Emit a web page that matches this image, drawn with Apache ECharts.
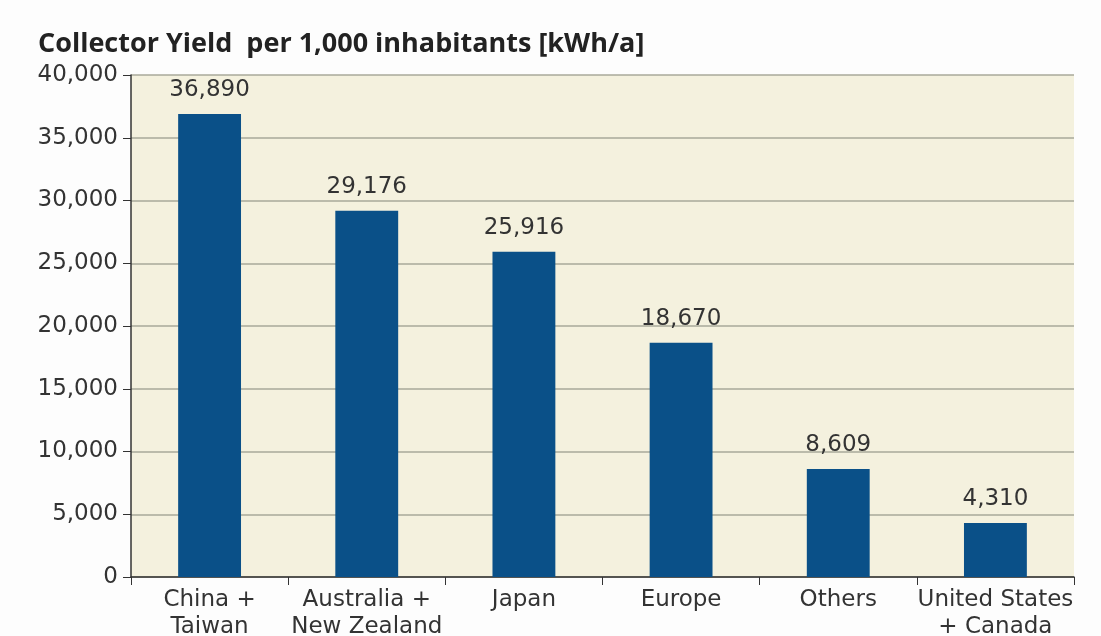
<!DOCTYPE html>
<html>
<head>
<meta charset="utf-8">
<script src="https://cdn.jsdelivr.net/npm/echarts@6/dist/echarts.min.js"></script>
<style>
  html, body { margin: 0; padding: 0; background: #fdfdfd; }
  #main { width: 1101px; height: 636px; }
</style>
</head>
<body>
<div id="main"></div>
<script>
// categories and values
var regions = ["China +\nTaiwan", "Australia +\nNew Zealand", "Japan", "Europe", "Others", "United States\n+ Canada"];
var yieldValues = [36890, 29176, 25916, 18670, 8609, 4310];
var yTicks = [0, 5000, 10000, 15000, 20000, 25000, 30000, 35000, 40000];

var myChart = echarts.init(document.getElementById('main'));

var option = {
  animation: false,
  title: {
    text: "Collector Yield  per 1,000 inhabitants [kWh/a]",
    left: 33,
    top: 26,
    textStyle: {
      fontFamily: "Open Sans",
      fontWeight: "bold",
      fontSize: 27,
      color: "#222"
    }
  },
  grid: {
    left: 131,
    right: 27,
    top: 75,
    bottom: 59,
    outerBoundsMode: "none",
    containLabel: false,
    show: true,
    backgroundColor: "#f4f1de",
    borderWidth: 0
  },
  xAxis: {
    type: "category",
    data: regions,
    axisLine: { lineStyle: { color: "#333", width: 1.5 } },
    axisTick: { show: true, length: 8, lineStyle: { color: "#333" } },
    axisLabel: {
      fontFamily: "DejaVu Sans",
      fontSize: 23,
      color: "#333",
      lineHeight: 27,
      margin: 10,
      interval: 0
    }
  },
  yAxis: {
    type: "value",
    min: yTicks[0],
    max: yTicks[yTicks.length - 1],
    interval: 5000,
    axisLine: { show: true, lineStyle: { color: "#333", width: 1.5 } },
    axisTick: { show: true, length: 8, lineStyle: { color: "#333" } },
    splitLine: { lineStyle: { color: "#a9a99a", width: 1.5 } },
    axisLabel: {
      fontFamily: "DejaVu Sans",
      fontSize: 23,
      color: "#333",
      margin: 13,
      formatter: function (v) { return v.toLocaleString("en-US"); }
    }
  },
  series: [
    {
      type: "bar",
      data: yieldValues,
      barWidth: "40%",
      itemStyle: { color: "#0a5088" },
      label: {
        show: true,
        position: "top",
        distance: 12,
        fontFamily: "DejaVu Sans",
        fontSize: 23,
        color: "#333",
        formatter: function (p) { return p.value.toLocaleString("en-US"); }
      }
    }
  ]
};

myChart.setOption(option);
</script>
</body>
</html>
